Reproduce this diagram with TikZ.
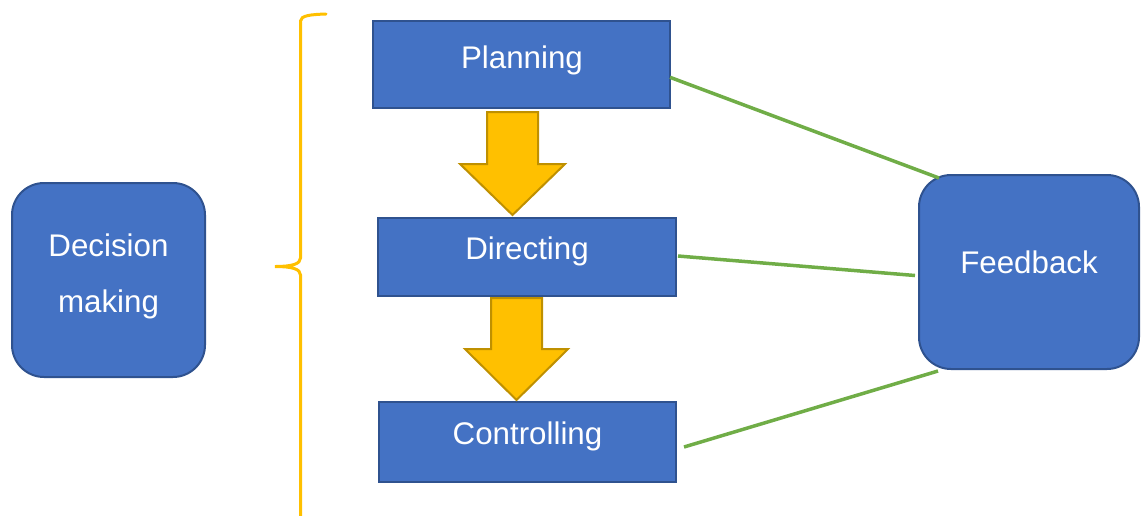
\documentclass[tikz,border=0pt]{standalone}
\usepackage{fontspec}
\setmainfont{Liberation Sans}
\usetikzlibrary{calc}
\definecolor{boxblue}{HTML}{4472C4}
\definecolor{boxedge}{HTML}{2F528F}
\definecolor{gold}{HTML}{FFC000}
\definecolor{goldedge}{HTML}{BF9000}
\definecolor{linkgreen}{HTML}{70AD47}

\begin{document}
\begin{tikzpicture}[x=1pt,y=-1pt,
  stagebox/.style={draw=boxedge, fill=boxblue, line width=2pt, inner sep=0pt, outer sep=0pt},
  roundbox/.style={stagebox, rounded corners=32pt},
  caption/.style={text=white, inner sep=0pt, anchor=base, font=\fontsize{31.3}{37}\selectfont},
  flowarrow/.style={draw=goldedge, fill=gold, line width=2pt, line join=miter},
  link/.style={draw=linkgreen, line width=3.5pt},
  bracket/.style={draw=gold, line width=3pt, line cap=round}]
\useasboundingbox (0,0) rectangle (1142,515);

% boxes
\node[stagebox, minimum width=297pt, minimum height=87pt] (plan) at (521.5,64.5) {};
\node[stagebox, minimum width=298pt, minimum height=78pt] (dir) at (527,257) {};
\node[stagebox, minimum width=297pt, minimum height=80pt] (ctrl) at (527.5,442) {};
\node[roundbox, minimum width=193pt, minimum height=194pt] (dec) at (108.5,280) {};
\node[roundbox, minimum width=220pt, minimum height=194pt] (fb) at (1029,272) {};

% labels
\node[caption] (planT) at (522,68) {Planning};
\node[caption] (dirT) at (527,259.5) {Directing};
\node[caption] (ctrlT) at (527.5,444.5) {Controlling};
\node[caption] (decT1) at (108.5,256) {Decision};
\node[caption] (decT2) at (108.5,312) {making};
\node[caption] (fbT) at (1029,273.5) {Feedback};

% block arrows between the stages
\path[flowarrow] (487,112) -- (538,112) -- (538,164) -- (565,164) -- (512.5,215)
  -- (460,164) -- (487,164) -- cycle;
\path[flowarrow] (491,298) -- (542,298) -- (542,349) -- (568,349) -- (516.5,400)
  -- (465,349) -- (491,349) -- cycle;

% feedback links
\draw[link] ($(plan.east)+(0,12.8)$) -- ($(fb.north west)+(20,3)$);
\draw[link] ($(dir.east)+(2,-1)$) -- ($(fb.west)+(-4,3.5)$);
\draw[link] ($(ctrl.east)+(8,5)$) -- ($(fb.south west)+(19,2)$);

% brace
\path[bracket] (326,14) .. controls (311,14.5) and (300.5,15.5) .. (300.5,21)
  -- (300.5,258) .. controls (300.5,264) and (292,266.5) .. (275,266.5)
  .. controls (292,266.5) and (300.5,269) .. (300.5,275) -- (300.5,516);
\end{tikzpicture}
\end{document}
